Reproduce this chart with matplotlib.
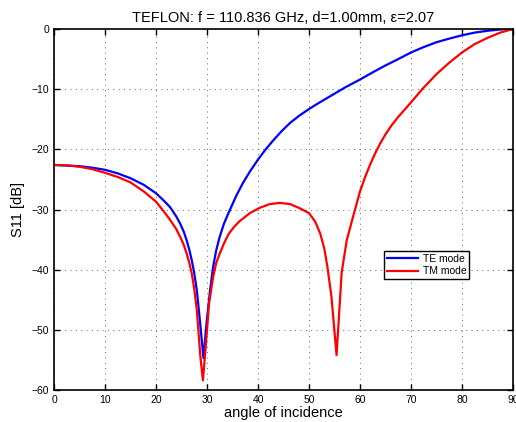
import matplotlib
matplotlib.use("Agg")
import matplotlib.pyplot as plt

plt.rcParams['font.family'] = ['Liberation Sans', 'DejaVu Sans']

# reflection of the teflon slab, TE polarisation
te_angle = [0, 5, 7.5, 10, 12.5, 15, 17.6, 20, 21.5, 22.75, 24.0, 24.7, 25.4,
            26.0, 26.5, 27.0, 27.5, 28.0, 28.6, 29.3, 29.9, 30.6, 31.2, 31.8,
            32.5, 33.3, 34.2, 35.8, 37.1, 38.4, 40, 41.5, 43, 44.6, 46.3, 48.1,
            50, 51.7, 53.5, 55.3, 57.1, 60, 62.5, 64.9, 67.5, 70, 72.5, 75,
            77.5, 80, 82.5, 85, 87.5, 90]
te_db = [-22.6, -22.8, -23.05, -23.4, -24.0, -24.8, -25.9, -27.3, -28.5, -29.6,
         -31.2, -32.3, -33.6, -35.1, -36.6, -38.4, -40.6, -43.4, -48.4, -54.7,
         -48.9, -43.4, -39.5, -36.8, -34.5, -32.4, -30.6, -27.6, -25.5, -23.7,
         -21.7, -20.0, -18.5, -17.0, -15.6, -14.4, -13.3, -12.4, -11.5, -10.6,
         -9.7, -8.4, -7.2, -6.1, -5.0, -3.9, -3.0, -2.2, -1.6, -1.05, -0.6,
         -0.3, -0.08, 0.0]

# TM polarisation
tm_angle = [0, 2.5, 5, 7.5, 10, 12.5, 15, 17.6, 20, 21.6, 22.75, 24.0, 24.7,
            25.4, 26.0, 26.5, 27.0, 27.5, 28.0, 28.7, 29.2, 29.8, 30.4, 31.2,
            31.8, 32.5, 33.4, 34.3, 35.3, 36.3, 38.4, 40.4, 42.3, 44.3, 46.3,
            48.2, 50, 51.2, 52.2, 53.0, 53.6, 54.4, 55.4, 56.4, 57.4, 58.7, 60,
            61, 62, 62.9, 63.9, 65, 66.2, 67.5, 70, 72.2, 75, 77.5, 80, 82.5,
            85.2, 87.5, 90]
tm_db = [-22.6, -22.65, -22.9, -23.3, -23.9, -24.6, -25.5, -27.0, -28.7, -30.4,
         -31.7, -33.3, -34.5, -35.8, -37.3, -38.8, -40.6, -43.2, -46.7, -54.5,
         -58.4, -52.2, -45.6, -41.2, -38.9, -37.3, -35.5, -34.0, -32.9, -32.0,
         -30.6, -29.7, -29.1, -28.9, -29.1, -29.8, -30.6, -32.0, -34.0, -36.5,
         -39.5, -44.5, -54.2, -40.5, -35.1, -31.0, -27.0, -24.6, -22.5, -20.8,
         -19.1, -17.5, -16.0, -14.6, -12.2, -10.0, -7.5, -5.6, -3.9, -2.5,
         -1.4, -0.6, 0.0]

fig = plt.figure(figsize=(5.16, 4.22), dpi=100)
ax = fig.add_axes([0.1047, 0.0758, 0.8895, 0.8555])

ax.plot(te_angle, te_db, color='#0000ff', lw=1.6, label='TE mode')
ax.plot(tm_angle, tm_db, color='#ff0000', lw=1.6, label='TM mode')

ax.set_xlim(0, 90)
ax.set_ylim(-60, 0)
ax.set_xticks(range(0, 91, 10))
ax.set_yticks(range(-60, 1, 10))
ax.grid(True, linestyle=(0, (1, 4.5)), color='#666666', linewidth=0.7)
ax.tick_params(direction='in', top=True, right=True, labelsize=7.5, length=4, width=1)
for s in ax.spines.values():
    s.set_linewidth(1.2)

ax.set_title('TEFLON: f = 110.836 GHz, d=1.00mm, ε=2.07', fontsize=10.5, pad=5)
ax.set_xlabel('angle of incidence', fontsize=10.5, labelpad=1)
ax.set_ylabel('S11 [dB]', fontsize=10.5, labelpad=5)

leg = ax.legend(loc='upper left', bbox_to_anchor=(0.719, 0.385), fontsize=7.5,
                fancybox=False, framealpha=1, edgecolor='black', borderpad=0.3,
                handlelength=3, handletextpad=0.4, labelspacing=0.2,
                borderaxespad=0)
leg.get_frame().set_linewidth(1.0)

fig.savefig('out.png', dpi=100)
